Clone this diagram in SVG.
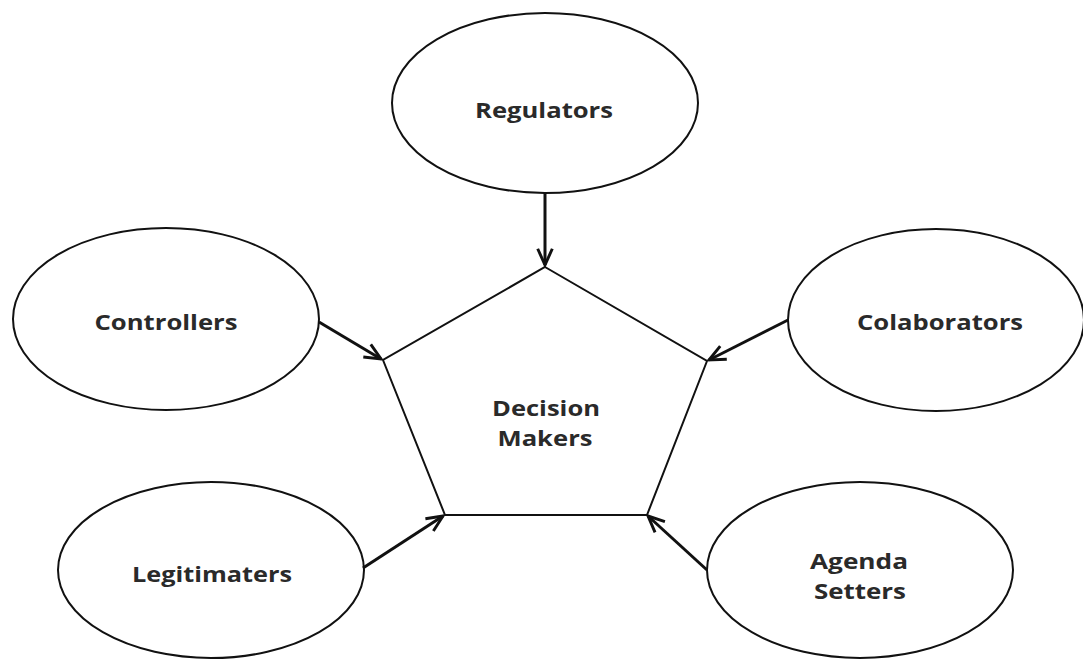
<svg xmlns="http://www.w3.org/2000/svg" width="1083" height="659" viewBox="0 0 1083 659">
<style>
.node{fill:#fff;stroke:#111;stroke-width:2}
.lbl{font-family:"Open Sans",Lato,"Liberation Sans",sans-serif;font-weight:bold;font-size:22px;fill:#2a2a2a;text-anchor:middle}
.conn{stroke:#111;stroke-width:3;fill:none;marker-end:url(#arr)}
</style>
<defs>
<marker id="arr" viewBox="0 0 12 12" refX="11" refY="6" markerWidth="6.5" markerHeight="6.5" orient="auto" markerUnits="strokeWidth">
<path d="M1,1.5 L11,6 L1,10.5" fill="none" stroke="#111" stroke-width="1.8" stroke-linejoin="miter"/>
</marker>
</defs>
<rect width="1083" height="659" fill="#fff"/>
<g id="decision-makers">
<polygon class="node" points="545,267 707,361 647,515 445,515 383,360"/>
<text class="lbl" x="546" y="416" textLength="108" lengthAdjust="spacingAndGlyphs">Decision</text>
<text class="lbl" x="545" y="446" textLength="95" lengthAdjust="spacingAndGlyphs">Makers</text>
</g>
<g id="regulators">
<ellipse class="node" cx="545" cy="103" rx="153" ry="90"/>
<text class="lbl" x="544" y="118" textLength="138" lengthAdjust="spacingAndGlyphs">Regulators</text>
</g>
<g id="controllers">
<ellipse class="node" cx="166" cy="319" rx="153" ry="91"/>
<text class="lbl" x="166" y="330" textLength="143" lengthAdjust="spacingAndGlyphs">Controllers</text>
</g>
<g id="colaborators">
<ellipse class="node" cx="936" cy="320" rx="148" ry="91"/>
<text class="lbl" x="940" y="330" textLength="166" lengthAdjust="spacingAndGlyphs">Colaborators</text>
</g>
<g id="legitimaters">
<ellipse class="node" cx="211" cy="570" rx="153" ry="88"/>
<text class="lbl" x="212" y="582" textLength="160" lengthAdjust="spacingAndGlyphs">Legitimaters</text>
</g>
<g id="agenda-setters">
<ellipse class="node" cx="860" cy="570" rx="153" ry="88"/>
<text class="lbl" x="859" y="569" textLength="98" lengthAdjust="spacingAndGlyphs">Agenda</text>
<text class="lbl" x="860" y="599" textLength="92" lengthAdjust="spacingAndGlyphs">Setters</text>
</g>
<g id="connectors">
<line class="conn" x1="545" y1="193" x2="545" y2="265"/>
<line class="conn" x1="319" y1="322" x2="381" y2="359"/>
<line class="conn" x1="788" y1="320" x2="709" y2="360"/>
<line class="conn" x1="363" y1="568" x2="443" y2="516"/>
<line class="conn" x1="707" y1="570" x2="648" y2="516"/>
</g>
</svg>
